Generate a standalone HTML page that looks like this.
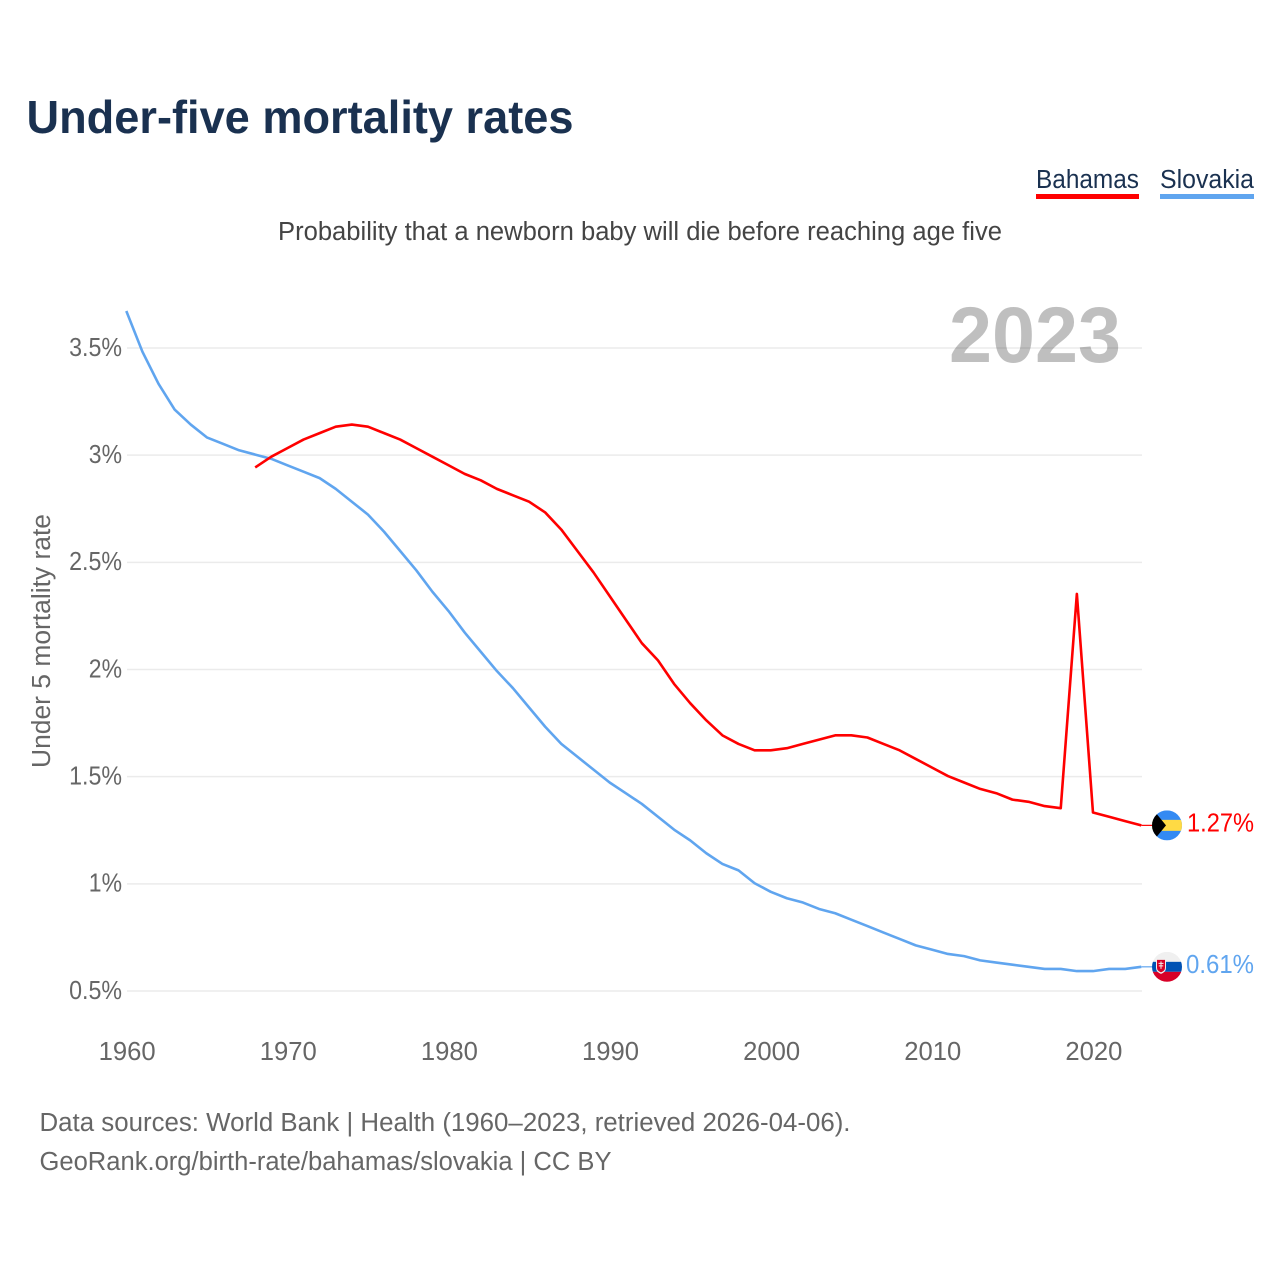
<!DOCTYPE html>
<html lang="en">
<head>
<meta charset="utf-8">
<title>Under-five mortality rates</title>
<style>
html,body{margin:0;padding:0;background:#fff;width:1280px;height:1280px;overflow:hidden}
svg{display:block}
text{font-family:"Liberation Sans",sans-serif}
</style>
</head>
<body>
<svg id="chart" width="1280" height="1280" viewBox="0 0 1280 1280" xmlns="http://www.w3.org/2000/svg">
  <defs>
    <clipPath id="flag-clip"><circle cx="0" cy="0" r="15"/></clipPath>
  </defs>
  <text x="26.5" y="133" font-size="46" font-weight="700" fill="#1a3150" textLength="547" lengthAdjust="spacingAndGlyphs">Under-five mortality rates</text>

  <g>
    <g>
      <text x="1036" y="188" font-size="25.5" fill="#1a3150" textLength="103" lengthAdjust="spacingAndGlyphs">Bahamas</text>
      <rect x="1036" y="194" width="103" height="5" fill="#ff0000"/>
    </g>
    <g>
      <text x="1160" y="188" font-size="25.5" fill="#1a3150" textLength="94" lengthAdjust="spacingAndGlyphs">Slovakia</text>
      <rect x="1160" y="194" width="94" height="5" fill="#60a5ef"/>
    </g>
  </g>

  <text x="278" y="240" font-size="25.5" fill="#444444" textLength="724" lengthAdjust="spacingAndGlyphs">Probability that a newborn baby will die before reaching age five</text>

  <g id="grid"></g>
  <g id="y-ticks"></g>
  <g id="x-ticks"></g>

  <text x="949" y="362" font-size="79" font-weight="700" fill="#000000" fill-opacity="0.25" textLength="172" lengthAdjust="spacingAndGlyphs">2023</text>

  <text transform="translate(50,768) rotate(-90)" font-size="25.5" fill="#666666" textLength="254" lengthAdjust="spacingAndGlyphs">Under 5 mortality rate</text>

  <g id="series"></g>

  <g id="flag-bahamas">
    <g clip-path="url(#flag-clip)">
      <rect x="-15" y="-15" width="30" height="30" fill="#338af3"/>
      <rect x="-15" y="-5.5" width="30" height="11" fill="#ffda44"/>
      <polygon points="-15,-15 -15,15 -10,11 -1,0 -10,-11" fill="#000000"/>
    </g>
  </g>
  <g id="flag-slovakia">
    <g clip-path="url(#flag-clip)">
      <rect x="-15" y="-15" width="30" height="10" fill="#f0f0f0"/>
      <rect x="-15" y="-5" width="30" height="10" fill="#0052b4"/>
      <rect x="-15" y="5" width="30" height="10" fill="#d80027"/>
      <path d="M-11,-8 H-1 V1 Q-1,5 -6,7 Q-11,5 -11,1 Z" fill="#f0f0f0"/>
      <path d="M-10,-7 H-2 V1 Q-2,4 -6,5.5 Q-10,4 -10,1 Z" fill="#d80027"/>
      <path d="M-6.5,-5.5 H-5.5 V-4 H-3.5 V-3 H-5.5 V-1.5 H-3.8 V-0.5 H-5.5 V2 H-6.5 V-0.5 H-8.2 V-1.5 H-6.5 V-3 H-8.5 V-4 H-6.5 Z" fill="#f0f0f0"/>
    </g>
  </g>

  <text id="value-bahamas" font-size="25.5" fill="#ff0000" textLength="67" lengthAdjust="spacingAndGlyphs" x="1187"></text>
  <text id="value-slovakia" font-size="25.5" fill="#60a5ef" textLength="68" lengthAdjust="spacingAndGlyphs" x="1186"></text>

  <text x="39.5" y="1131" font-size="25.5" fill="#666666" textLength="811" lengthAdjust="spacingAndGlyphs">Data sources: World Bank | Health (1960–2023, retrieved 2026-04-06).</text>
  <text x="39.5" y="1170" font-size="25.5" fill="#666666" textLength="572" lengthAdjust="spacingAndGlyphs">GeoRank.org/birth-rate/bahamas/slovakia | CC BY</text>
</svg>

<script>
const yTickValues = [0.5, 1, 1.5, 2, 2.5, 3, 3.5];
const yTickLabels = ["0.5%", "1%", "1.5%", "2%", "2.5%", "3%", "3.5%"];
const xTickYears = [1960, 1970, 1980, 1990, 2000, 2010, 2020];

const slovakiaStartYear = 1960;
const slovakiaValues = [
  3.67, 3.48, 3.33, 3.21, 3.14, 3.08, 3.05, 3.02, 3.00, 2.98,
  2.95, 2.92, 2.89, 2.84, 2.78, 2.72, 2.64, 2.55, 2.46, 2.36,
  2.27, 2.17, 2.08, 1.99, 1.91, 1.82, 1.73, 1.65, 1.59, 1.53,
  1.47, 1.42, 1.37, 1.31, 1.25, 1.20, 1.14, 1.09, 1.06, 1.00,
  0.96, 0.93, 0.91, 0.88, 0.86, 0.83, 0.80, 0.77, 0.74, 0.71,
  0.69, 0.67, 0.66, 0.64, 0.63, 0.62, 0.61, 0.60, 0.60, 0.59,
  0.59, 0.60, 0.60, 0.61
];

const bahamasStartYear = 1968;
const bahamasValues = [
  2.94, 2.99, 3.03, 3.07, 3.10, 3.13, 3.14, 3.13, 3.10, 3.07,
  3.03, 2.99, 2.95, 2.91, 2.88, 2.84, 2.81, 2.78, 2.73, 2.65,
  2.55, 2.45, 2.34, 2.23, 2.12, 2.04, 1.93, 1.84, 1.76, 1.69,
  1.65, 1.62, 1.62, 1.63, 1.65, 1.67, 1.69, 1.69, 1.68, 1.65,
  1.62, 1.58, 1.54, 1.50, 1.47, 1.44, 1.42, 1.39, 1.38, 1.36,
  1.35, 2.35, 1.33, 1.31, 1.29, 1.27
];

const SVG_NS = "http://www.w3.org/2000/svg";
const plotLeft = 126.3, plotRight = 1141.3, plotTop = 348, plotBottom = 991;
const xMinYear = 1960, xMaxYear = 2023, yMinValue = 0.5, yMaxValue = 3.5;
const gridLeft = 127, gridRight = 1142, lineOffsetY = -0.6;

function xScale(year) {
  return plotLeft + (year - xMinYear) / (xMaxYear - xMinYear) * (plotRight - plotLeft);
}
function yScale(value) {
  return plotBottom - (value - yMinValue) / (yMaxValue - yMinValue) * (plotBottom - plotTop);
}
function labelWidth(label) {
  let w = 0;
  for (const ch of label) w += ch === "." ? 5.5 : ch === "%" ? 19 : 14.2;
  return w;
}
function make(tag, attrs) {
  const el = document.createElementNS(SVG_NS, tag);
  for (const k in attrs) el.setAttribute(k, attrs[k]);
  return el;
}

const gridGroup = document.getElementById("grid");
const yTickGroup = document.getElementById("y-ticks");
const xTickGroup = document.getElementById("x-ticks");
const seriesGroup = document.getElementById("series");

yTickValues.forEach(function (value, i) {
  const y = yScale(value);
  const line = make("line", { x1: gridLeft, x2: gridRight, y1: y, y2: y, stroke: "#ebebeb", "stroke-width": 1.5 });
  
  
  gridGroup.appendChild(line);

  const label = make("text", {
    x: 122, y: y + 7.8, "text-anchor": "end", "font-size": 25.5, fill: "#666666",
    textLength: labelWidth(yTickLabels[i]), lengthAdjust: "spacingAndGlyphs"
  });
  
  
  label.textContent = yTickLabels[i];
  yTickGroup.appendChild(label);
});

xTickYears.forEach(function (year) {
  const label = make("text", {
    x: xScale(year) + 0.9, y: 1060, "text-anchor": "middle", "font-size": 25.5, fill: "#666666",
    textLength: 57, lengthAdjust: "spacingAndGlyphs"
  });
  
  
  label.textContent = String(year);
  xTickGroup.appendChild(label);
});

function drawSeries(values, startYear, color, name, flagId, valueId, flagX) {
  const pts = values.map(function (v, i) {
    return xScale(startYear + i).toFixed(2) + "," + (yScale(v) + lineOffsetY).toFixed(2);
  }).join(" ");
  const line = make("polyline", {
    points: pts, fill: "none", stroke: color, "stroke-width": 2.6, "stroke-linejoin": "round"
  });
  
  
  seriesGroup.appendChild(line);

  const last = values[values.length - 1];
  const lastY = yScale(last) + lineOffsetY;
  const connector = make("line", {
    x1: plotRight, x2: flagX - 15, y1: lastY, y2: lastY, stroke: color, "stroke-width": 1.2
  });
  
  
  seriesGroup.appendChild(connector);

  document.getElementById(flagId).setAttribute("transform", "translate(" + flagX + "," + lastY + ")");
  const valueLabel = document.getElementById(valueId);
  valueLabel.setAttribute("y", lastY + 6.2);
  valueLabel.textContent = last.toFixed(2) + "%";
}

drawSeries(slovakiaValues, slovakiaStartYear, "#60a5ef", "line-slovakia", "flag-slovakia", "value-slovakia", 1167);
drawSeries(bahamasValues, bahamasStartYear, "#ff0000", "line-bahamas", "flag-bahamas", "value-bahamas", 1167);
</script>
</body>
</html>
